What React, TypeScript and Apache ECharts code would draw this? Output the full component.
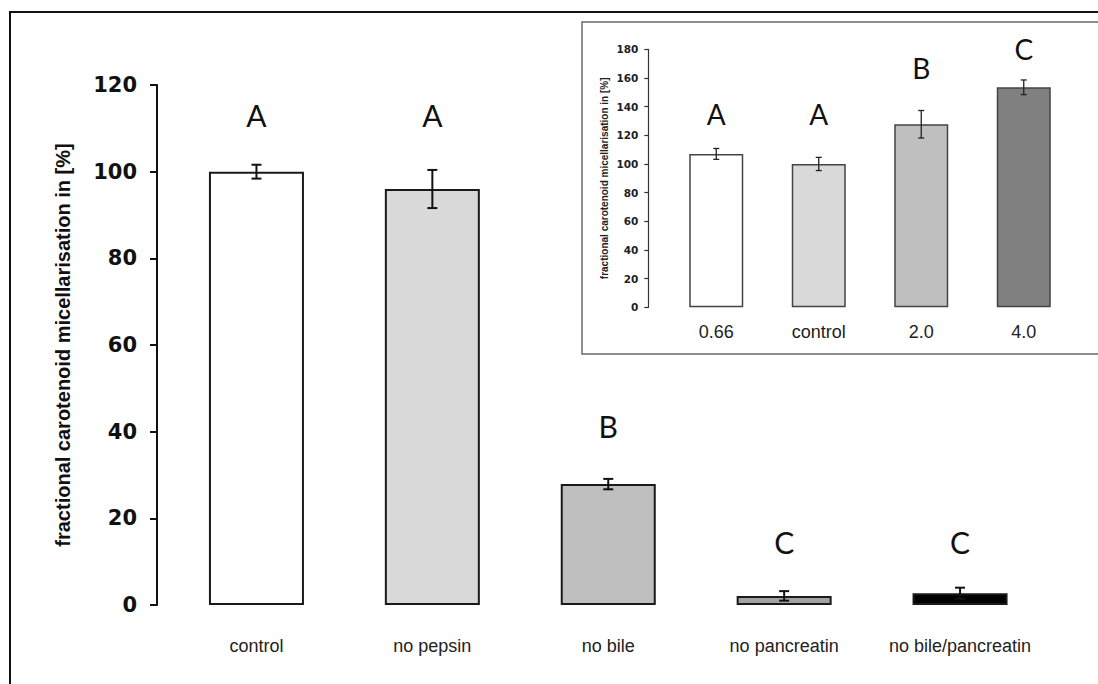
import React, { useEffect, useRef } from "react";
import * as echarts from "echarts";

const mainCategories = ["control", "no pepsin", "no bile", "no pancreatin", "no bile/pancreatin"];
const mainValues = [100, 96, 27.9, 2.1, 2.7];
const mainErrors = [1.6, 4.4, 1.2, 1.1, 1.3];
const mainColors = ["#ffffff", "#d9d9d9", "#bfbfbf", "#a3a3a3", "#000000"];
const mainLetters = ["A", "A", "B", "C", "C"];
const mainLetterY = [113, 113, 41.2, 14.5, 14.5];
const mainTicks = [0, 20, 40, 60, 80, 100, 120];

const insetCategories = ["0.66", "control", "2.0", "4.0"];
const insetValues = [107, 100, 127.7, 153.5];
const insetErrors = [3.8, 4.6, 9.6, 5.1];
const insetColors = ["#ffffff", "#d9d9d9", "#bfbfbf", "#808080"];
const insetLetters = ["A", "A", "B", "C"];
const insetLetterY = [135, 135, 167, 180];
const insetTicks = [0, 20, 40, 60, 80, 100, 120, 140, 160, 180];

const yName = "fractional carotenoid micellarisation in [%]";

function errorSeries(values: number[], errors: number[], axisIdx: number, cap: number, lw: number, color: string) {
  return {
    type: "custom",
    xAxisIndex: axisIdx,
    yAxisIndex: axisIdx,
    z: 5,
    data: values.map((v, i) => [i, v - errors[i], v + errors[i]]),
    renderItem: (params: any, api: any) => {
      const lo = api.coord([api.value(0), api.value(1)]);
      const hi = api.coord([api.value(0), api.value(2)]);
      const st = { stroke: color, lineWidth: lw };
      return {
        type: "group",
        children: [
          { type: "line", shape: { x1: lo[0], y1: lo[1], x2: hi[0], y2: hi[1] }, style: st },
          { type: "line", shape: { x1: lo[0] - cap, y1: lo[1], x2: lo[0] + cap, y2: lo[1] }, style: st },
          { type: "line", shape: { x1: hi[0] - cap, y1: hi[1], x2: hi[0] + cap, y2: hi[1] }, style: st },
        ],
      };
    },
  };
}

function letterSeries(letters: string[], ys: number[], axisIdx: number, size: number) {
  return {
    type: "custom",
    xAxisIndex: axisIdx,
    yAxisIndex: axisIdx,
    z: 6,
    clip: false,
    data: letters.map((l, i) => [i, ys[i]]),
    renderItem: (params: any, api: any) => {
      const p = api.coord([api.value(0), api.value(1)]);
      return {
        type: "text",
        x: p[0],
        y: p[1],
        style: {
          text: letters[params.dataIndex],
          fontSize: size,
          fontFamily: "Lato, 'DejaVu Sans', sans-serif",
          fill: "#111",
          align: "center",
          verticalAlign: "middle",
        },
      };
    },
  };
}

export default function App() {
  const ref = useRef<HTMLDivElement>(null);
  useEffect(() => {
    if (!ref.current) return;
    const chart = echarts.init(ref.current, undefined, { renderer: "svg" });
    const option: any = {
      animation: false,
      backgroundColor: "#ffffff",
      graphic: [
        {
          type: "rect",
          silent: true,
          z: 0,
          shape: { x: 10, y: 12, width: 1300, height: 1000 },
          style: { fill: "none", stroke: "#111", lineWidth: 2 },
        },
        {
          type: "rect",
          silent: true,
          z: 0,
          shape: { x: 582, y: 22, width: 700, height: 332 },
          style: { fill: "#ffffff", stroke: "#6b6b6b", lineWidth: 1.5 },
        },
      ],
      grid: [
        { left: 168.5, right: 50, top: 85, bottom: 79 },
        { left: 665, right: 23, top: 49.3, bottom: 376.7 },
      ],
      xAxis: [
        {
          type: "category",
          gridIndex: 0,
          data: mainCategories,
          axisLine: { show: false },
          axisTick: { show: false },
          axisLabel: { interval: 0, margin: 32, fontSize: 18, fontFamily: "'Liberation Sans', Arial, sans-serif", color: "#222" },
        },
        {
          type: "category",
          gridIndex: 1,
          data: insetCategories,
          axisLine: { show: false },
          axisTick: { show: false },
          axisLabel: { interval: 0, margin: 16, fontSize: 18, fontFamily: "'Liberation Sans', Arial, sans-serif", color: "#222" },
        },
      ],
      yAxis: [
        {
          type: "value",
          gridIndex: 0,
          min: mainTicks[0],
          max: mainTicks[mainTicks.length - 1],
          interval: 20,
          offset: 11.5,
          splitLine: { show: false },
          axisLine: { show: true, lineStyle: { color: "#111", width: 2 } },
          axisTick: { show: true, length: 7, lineStyle: { color: "#111", width: 2 } },
          axisLabel: { margin: 20, fontSize: 21, fontWeight: "bold", fontFamily: "'DejaVu Sans', sans-serif", color: "#111" },
          name: yName,
          nameLocation: "middle",
          nameGap: 84,
          nameRotate: 90,
          nameTextStyle: { fontSize: 20, fontWeight: "bold", fontFamily: "'Liberation Sans', Arial, sans-serif", color: "#111" },
        },
        {
          type: "value",
          gridIndex: 1,
          min: insetTicks[0],
          max: insetTicks[insetTicks.length - 1],
          interval: 20,
          offset: 16.7,
          splitLine: { show: false },
          axisLine: { show: true, lineStyle: { color: "#333", width: 1.2 } },
          axisTick: { show: true, length: 4, lineStyle: { color: "#333", width: 1.2 } },
          axisLabel: { margin: 10, fontSize: 10.5, fontWeight: "bold", fontFamily: "'DejaVu Sans', sans-serif", color: "#222" },
          name: yName,
          nameLocation: "middle",
          nameGap: 39,
          nameRotate: 90,
          nameTextStyle: { fontSize: 10, fontWeight: "bold", fontFamily: "'Liberation Sans', Arial, sans-serif", color: "#222" },
        },
      ],
      series: [
        {
          type: "bar",
          xAxisIndex: 0,
          yAxisIndex: 0,
          barWidth: 95,
          data: mainValues.map((v, i) => ({
            value: v,
            itemStyle: { color: mainColors[i], borderColor: "#1a1a1a", borderWidth: 2 },
          })),
        },
        errorSeries(mainValues, mainErrors, 0, 5, 2, "#111"),
        letterSeries(mainLetters, mainLetterY, 0, 30),
        {
          type: "bar",
          xAxisIndex: 1,
          yAxisIndex: 1,
          barWidth: 54,
          z: 3,
          data: insetValues.map((v, i) => ({
            value: v,
            itemStyle: { color: insetColors[i], borderColor: "#444", borderWidth: 1.5 },
          })),
        },
        errorSeries(insetValues, insetErrors, 1, 3, 1.3, "#222"),
        letterSeries(insetLetters, insetLetterY, 1, 28),
      ],
    };
    chart.setOption(option);
    return () => chart.dispose();
  }, []);
  return (
    <div
      ref={ref}
      style={{ position: "fixed", left: 0, top: 0, width: 1098, height: 684, background: "#fff" }}
    />
  );
}
